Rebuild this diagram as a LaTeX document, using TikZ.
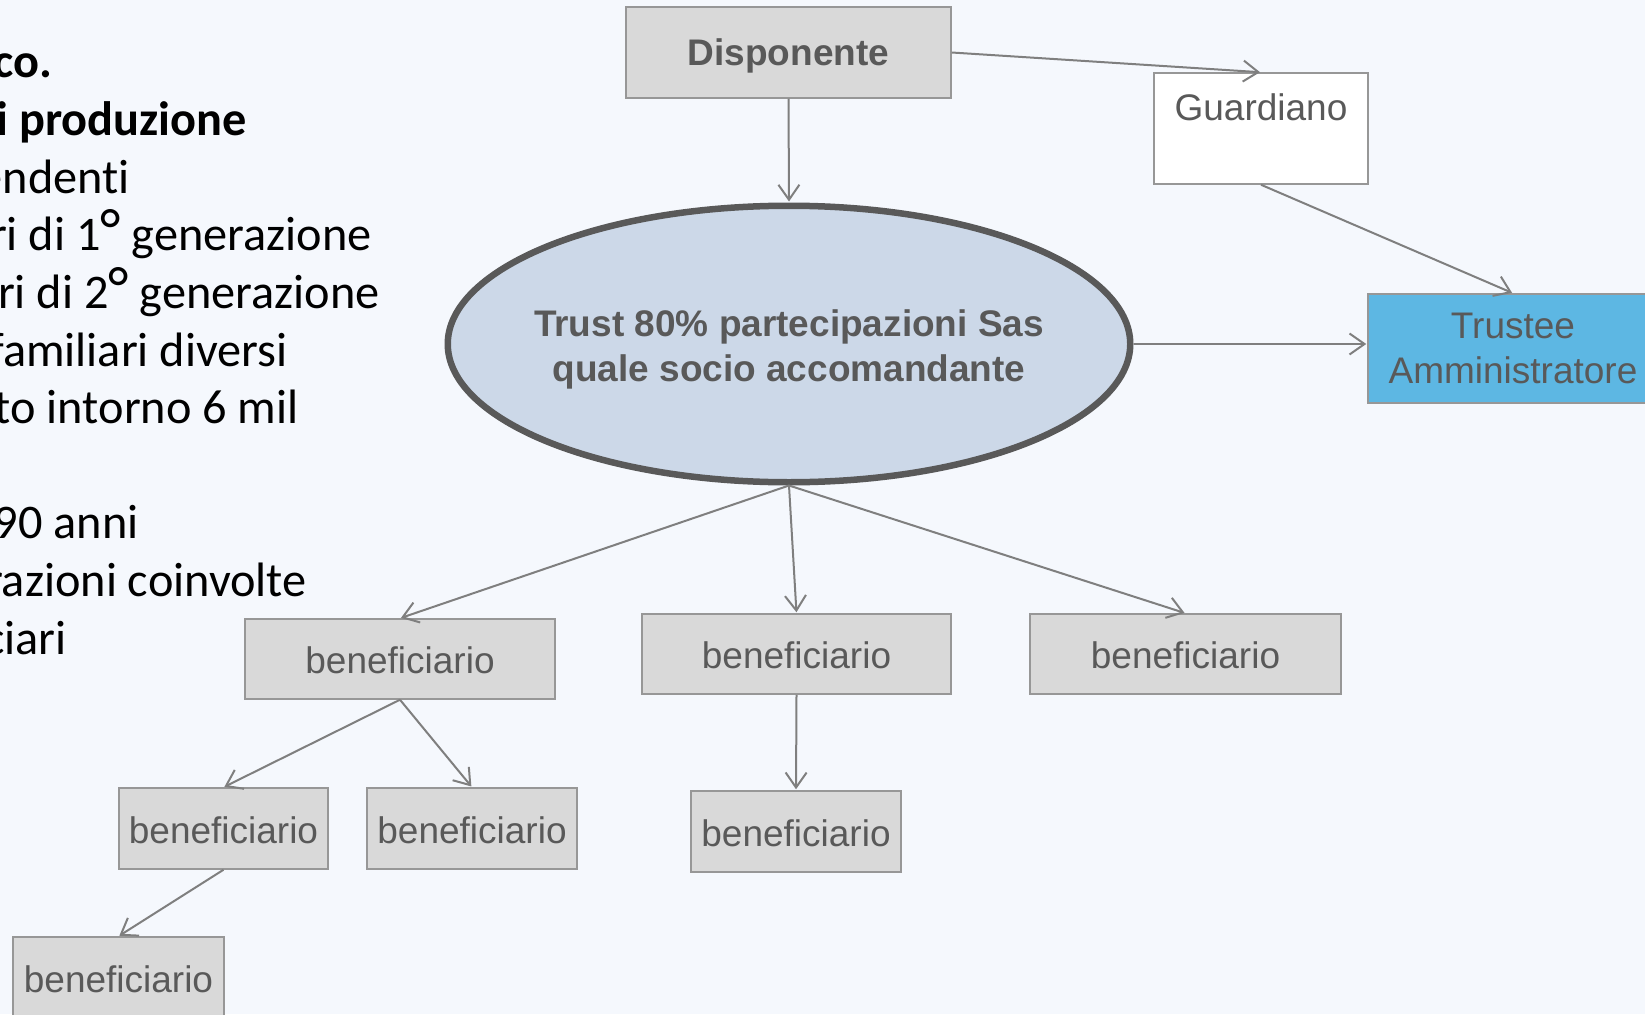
\documentclass[tikz,border=0pt]{standalone}
\usepackage{fontspec}
\setmainfont{Liberation Sans}
\newfontfamily\calfont[Ligatures=NoCommon]{Carlito}
\newfontfamily\diagfont{Liberation Sans}
\usetikzlibrary{shapes.geometric,arrows.meta}
\definecolor{bgcol}{HTML}{F5F8FD}
\definecolor{boxfill}{HTML}{D9D9D9}
\definecolor{boxline}{HTML}{979797}
\definecolor{conn}{HTML}{7F7F7F}
\definecolor{txtgray}{HTML}{595959}
\definecolor{ellfill}{HTML}{CCD8E8}
\definecolor{ellline}{HTML}{595959}
\definecolor{trustfill}{HTML}{5DB7E3}
\newcommand{\bigdeg}{{\fontsize{60}{57}\selectfont °}}
\tikzset{
  gbox/.style={draw=boxline, line width=1.5pt, fill=boxfill, inner sep=0pt,
    text=txtgray, font=\diagfont\fontsize{37}{45}\selectfont, align=center},
  benef/.style={gbox, text height=29.5pt, text depth=0pt},
  conn/.style={draw=conn, line width=2pt, -{Straight Barb[length=15pt,width=21pt]}, shorten >=1pt},
  lefttxt/.style={anchor=base east, inner sep=0pt, text=black, font=\calfont\fontsize{48.3}{57}\selectfont},
  leftbold/.style={lefttxt, font=\calfont\bfseries\fontsize{48.3}{57}\selectfont}
}
\begin{document}
\begin{tikzpicture}[x=1pt,y=-1pt]
\useasboundingbox (0,0) rectangle (1645,1014);
\clip (0,0) rectangle (1645,1014);
\fill[bgcol] (0,0) rectangle (1645,1014);

% left text (clipped bullet list)
\node[leftbold] (l1) at (53,78) {co.};
\node[leftbold] (l2) at (247,135.6) {i produzione};
\node[lefttxt] (l3) at (130,193.2) {endenti};
\node[lefttxt] (l4) at (372,250.8) {ri di 1\bigdeg\ generazione};
\node[lefttxt] (l5) at (380,308.4) {ri di 2\bigdeg\ generazione};
\node[lefttxt] (l6) at (288,366) {familiari diversi};
\node[lefttxt] (l7) at (299,423.6) {to intorno 6 mil};
\node[lefttxt] (l8) at (139,538.8) {90 anni};
\node[lefttxt] (l9) at (307,596.4) {razioni coinvolte};
\node[lefttxt] (l10) at (67,654) {ciari};

% nodes
\node[gbox, minimum width=325pt, minimum height=91pt, text height=58.5pt, text depth=32.5pt,
  font=\diagfont\bfseries\fontsize{37}{45}\selectfont] (disp) at (788.5,52.5) {Disponente};
\node[gbox, fill=white, minimum width=214pt, text height=48pt, text depth=63pt] (guard) at (1261,128.5) {Guardiano};
\node[draw=ellline, line width=6.5pt, fill=ellfill, ellipse, inner xsep=-120pt, inner ysep=-40pt,
  minimum width=682.5pt, minimum height=276.5pt, text=txtgray, align=center, text height=82pt,
  font=\diagfont\bfseries\fontsize{37}{45}\selectfont] (trust) at (789,344) {Trust 80\% partecipazioni Sas\\quale socio accomandante};
\node[gbox, fill=trustfill, minimum width=290pt, minimum height=109pt] (trustee) at (1513,348.5) {Trustee\\Amministratore};

\node[benef, minimum width=310pt, minimum height=80pt] (b1) at (400,659) {beneficiario};
\node[benef, minimum width=309pt, minimum height=80pt] (b2) at (796.5,654) {beneficiario};
\node[benef, minimum width=311pt, minimum height=80pt] (b3) at (1185.5,654) {beneficiario};
\node[benef, minimum width=209pt, minimum height=81pt] (b4) at (223.5,828.5) {beneficiario};
\node[benef, minimum width=210pt, minimum height=81pt] (b5) at (472,828.5) {beneficiario};
\node[benef, minimum width=210pt, minimum height=81pt] (b6) at (796,831.5) {beneficiario};
\node[benef, minimum width=211pt, minimum height=81pt] (b7) at (118.5,977.5) {beneficiario};

% connectors
\draw[conn] (disp.south) -- (trust.north);
\draw[conn] (disp.east) -- (guard.north);
\draw[conn] (guard.south) -- (trustee.north);
\draw[conn] (trust.east) -- (trust.east -| trustee.west);
\draw[conn] (trust.south) -- (b1.north);
\draw[conn] (trust.south) -- (b2.north);
\draw[conn] (trust.south) -- (b3.north);
\draw[conn] (b1.south) -- (b4.north);
\draw[conn] (b1.south) -- (b5.north);
\draw[conn] (b2.south) -- (b6.north);
\draw[conn] (b4.south) -- (b7.north);
\end{tikzpicture}
\end{document}
